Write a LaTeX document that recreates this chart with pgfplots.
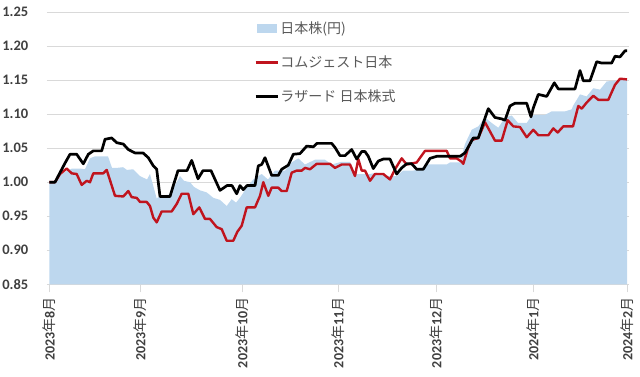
\documentclass[border=0pt]{standalone}
\usepackage{fontspec}
\setmainfont{Carlito}
\newfontfamily\cjk{Noto Sans CJK JP}
\usepackage{pgfplots}
\usepackage{pgfplotstable}
\pgfplotsset{compat=1.18}
\definecolor{areablue}{RGB}{189,215,238}
\definecolor{lred}{RGB}{192,20,30}
\definecolor{gridgray}{RGB}{217,217,217}
\definecolor{txtgray}{RGB}{89,89,89}
\definecolor{lblgray}{RGB}{64,64,64}
\newcommand\xl[2]{\textbf{#1}{\cjk\mdseries 年}\textbf{#2}{\cjk\mdseries 月}}

% x = horizontal position (px of the reference), y = index value
\pgfplotstableread{
x y
49.3 1.000
55 1.000
60 1.010
65 1.015
72 1.020
80 1.020
85 1.019
90 1.035
95 1.038
108 1.038
112 1.021
117 1.021
123 1.022
127 1.018
133 1.019
140 1.009
147 1.004
150 1.012
156.7 0.976
160 0.980
170 0.982
180 1.009
184 1.002
190 1.000
194 0.993
200 0.988
206.7 0.985
213.3 0.977
220 0.974
226.7 0.965
231.7 0.975
236 0.970
240 0.977
246.7 0.992
253.3 1.004
258.3 1.009
261.7 1.012
268 1.004
275 1.017
285 1.017
291.7 1.029
298.3 1.035
305 1.026
315 1.033
325 1.033
331.7 1.026
341.7 1.030
350 1.030
355 1.012
370 1.012
376.7 1.014
386.7 1.009
396.7 1.009
403 1.017
413 1.017
420 1.019
426.7 1.026
446.7 1.026
450 1.029
460 1.029
465 1.056
471.7 1.077
478.3 1.082
485 1.095
491.7 1.087
498.3 1.080
505 1.095
511.7 1.098
518 1.087
526.7 1.087
531.7 1.098
538 1.099
545 1.099
551.7 1.104
565 1.104
571.7 1.107
573 1.112
580 1.129
586.7 1.126
593.3 1.138
600 1.136
606.7 1.148
627 1.151
}\nikkei

\pgfplotstableread{
x y
49.3 1.000
55 1.000
60 1.012
66.7 1.020
71.7 1.013
76.7 1.012
81.7 0.996
86.7 1.002
90 1.000
93.3 1.013
103.3 1.013
106.7 1.018
115 0.980
123.3 0.979
128.3 0.987
131.7 0.978
136.7 0.977
140 0.971
146.7 0.971
150 0.965
153.3 0.948
156.7 0.941
161.7 0.957
171.7 0.957
176.7 0.968
181.7 0.983
188.3 0.983
193.3 0.953
199.3 0.963
205 0.946
210 0.946
216.7 0.934
221.7 0.931
226.7 0.914
233.3 0.914
237.3 0.927
241.7 0.936
246.7 0.963
255 0.963
260 0.980
263.3 1.000
268.3 0.980
271.7 0.992
278.3 0.992
281.7 0.987
286.7 0.987
291.7 1.014
296.7 1.017
301.7 1.017
305 1.021
310 1.019
316.7 1.027
330 1.027
335 1.021
341.7 1.026
350 1.026
355 1.009
358.3 1.034
361.7 1.017
365 1.017
370 1.002
375 1.012
383.3 1.012
390 1.004
395 1.019
401.7 1.035
406.7 1.026
416.7 1.029
425 1.046
446.7 1.046
450 1.035
456.7 1.035
461.7 1.030
463.3 1.027
468 1.050
471.7 1.062
478.3 1.065
485 1.088
495 1.061
501.7 1.061
507.7 1.091
513.3 1.082
520 1.081
526.7 1.066
533.3 1.077
538.3 1.069
548.3 1.069
553.3 1.079
557.7 1.073
563.3 1.082
573 1.082
578.3 1.112
581.7 1.108
586.7 1.117
593.3 1.127
598.3 1.121
608.3 1.121
615 1.143
620 1.152
627 1.151
}\comgest

\pgfplotstableread{
x y
49.3 1.000
55 1.000
60 1.014
65 1.028
70 1.041
76.7 1.041
83.3 1.027
88.3 1.041
93.3 1.046
101.7 1.046
105 1.063
111.7 1.065
116.7 1.058
123.3 1.056
128.3 1.048
135 1.043
143 1.043
148.3 1.036
153.3 1.024
156.7 1.019
160 0.979
170 0.979
173.3 0.995
178 1.017
187 1.017
191.7 1.032
198 1.005
203 1.017
211 1.017
220 0.988
227 0.995
232 0.995
236.7 0.983
240 0.995
243.3 0.989
247 0.995
255 0.995
258.3 1.024
261.7 1.026
265 1.036
271.7 1.010
278.3 1.010
281.7 1.019
288.3 1.025
293.3 1.041
300 1.042
306.7 1.053
313.3 1.052
317 1.057
331.7 1.057
335 1.051
340 1.039
345 1.039
351.7 1.048
356.7 1.034
361.7 1.045
365 1.045
368.3 1.038
373.3 1.020
378.3 1.031
383.3 1.034
390 1.034
396.7 1.012
401.7 1.021
406.7 1.027
411.7 1.027
416.7 1.019
423.3 1.019
430 1.035
436.7 1.038
460 1.038
465 1.043
473.3 1.065
478.3 1.065
483.3 1.087
488.3 1.108
495 1.095
501.7 1.093
505 1.091
510 1.112
515 1.116
526.7 1.116
531 1.096
533.3 1.109
538.3 1.129
546.7 1.126
554.3 1.146
558.3 1.137
575 1.137
580 1.164
583.3 1.149
590 1.149
596.7 1.177
601.7 1.175
611.7 1.175
615 1.185
620 1.184
625 1.193
627 1.193
}\lazard

\begin{document}
\begin{tikzpicture}
\useasboundingbox (0pt,0pt) rectangle (640pt,377pt);
\begin{axis}[
  at={(47pt,92.7pt)}, anchor=south west,
  scale only axis, width=582pt, height=272.3pt,
  xmin=47, xmax=629, ymin=0.85, ymax=1.25,
  axis line style={draw=none},
  ymajorgrids, grid style={color=gridgray, line width=0.75pt},
  ytick={0.85,0.90,...,1.26},
  yticklabel style={/pgf/number format/fixed, /pgf/number format/fixed zerofill,
    /pgf/number format/precision=2, /pgf/number format/assume math mode=true,
    font=\fontsize{14.5}{16}\selectfont\bfseries, text=lblgray, inner sep=0pt},
  yticklabel shift=10.5pt,
  ytick style={draw=none},
  xtick={49.3,140,242,338,436,533,627},
  xticklabels={\xl{2023}{8},\xl{2023}{9},\xl{2023}{10},\xl{2023}{11},\xl{2023}{12},\xl{2024}{1},\xl{2024}{2}},
  xticklabel style={rotate=90, anchor=east, font=\fontsize{14}{16}\selectfont, text=lblgray, inner sep=0pt},
  xticklabel shift=5pt,
  xtick pos=lower, tick align=outside, major tick length=8pt,
  xtick style={color=gridgray, line width=0.75pt},
  legend cell align=left,
  legend style={at={(0.3557,0.971)}, anchor=north west, draw=none, fill=none,
    inner sep=0pt, row sep=18pt, font=\cjk\fontsize{14}{16}\selectfont, text=txtgray,
    nodes={inner sep=1.5pt}},
]
\addplot[fill=areablue, draw=none,
  legend image code/.code={\fill[areablue] (1pt,-4.5pt) rectangle (21pt,4.5pt);}]
  table[x=x,y=y] {\nikkei} \closedcycle;
\addlegendentry{日本株(円)}
\addplot[color=lred, line width=2.4pt, line join=round,
  legend image code/.code={\draw[lred, line width=2.4pt] (0pt,0pt) -- (22pt,0pt);}]
  table[x=x,y=y] {\comgest};
\addlegendentry{コムジェスト日本}
\addplot[color=black, line width=2.7pt, line join=round,
  legend image code/.code={\draw[black, line width=2.7pt] (0pt,0pt) -- (22pt,0pt);}]
  table[x=x,y=y] {\lazard};
\addlegendentry{ラザード 日本株式}
\end{axis}
\end{tikzpicture}
\end{document}
